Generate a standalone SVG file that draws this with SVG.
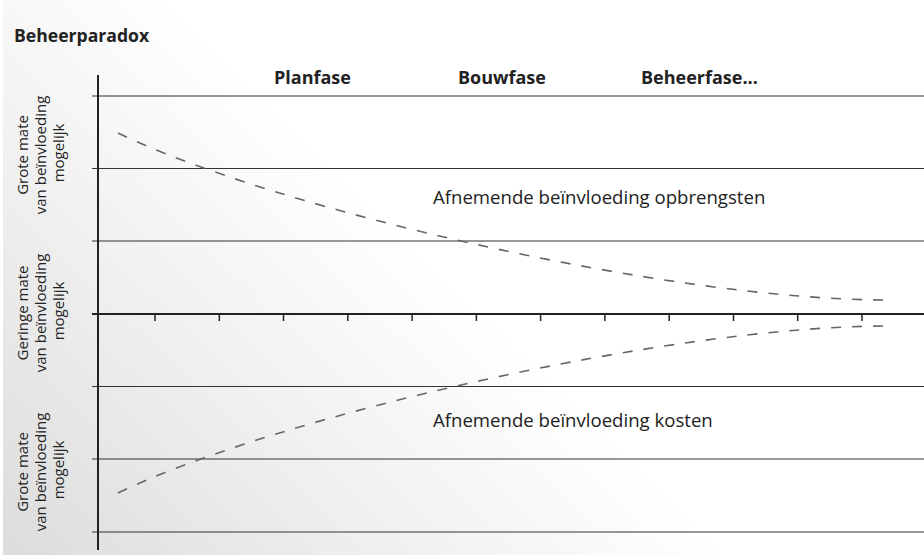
<svg xmlns="http://www.w3.org/2000/svg" width="924" height="555" viewBox="0 0 924 555">
  <style>
    .title { font-family: "Open Sans", "Liberation Sans", sans-serif; font-weight: 700; font-size: 17.6px; fill: #222; }
    .phase { font-family: "Open Sans", "Liberation Sans", sans-serif; font-weight: 700; font-size: 18px; fill: #222; }
    .body { font-family: "Open Sans", "Liberation Sans", sans-serif; font-size: 18.6px; fill: #222; }
    .ylab { font-family: "Open Sans", "Liberation Sans", sans-serif; font-size: 15px; fill: #222; text-anchor: middle; }
    .grid { stroke: #333; stroke-width: 1.2; fill: none; }
    .axis { stroke: #222; stroke-width: 2; fill: none; }
    .tick { stroke: #222; stroke-width: 1.5; }
    .curve { stroke: #666; stroke-width: 1.6; fill: none; stroke-dasharray: 10 11; }
  </style>
  <defs>
    <linearGradient id="bg" gradientUnits="userSpaceOnUse" x1="0" y1="555" x2="360" y2="190">
      <stop offset="0" stop-color="#dcdcdc"/>
      <stop offset="0.55" stop-color="#f0f0f0"/>
      <stop offset="1" stop-color="#ffffff"/>
    </linearGradient>
  </defs>

  <rect x="0" y="0" width="924" height="555" fill="#ffffff"/>
  <rect x="3" y="0" width="921" height="555" fill="url(#bg)"/>

  <!-- title -->
  <text class="title" x="14" y="42">Beheerparadox</text>

  <!-- phase headings -->
  <g id="phases">
    <text class="phase" x="274" y="84">Planfase</text>
    <text class="phase" x="458" y="84">Bouwfase</text>
    <text class="phase" x="641" y="84">Beheerfase...</text>
  </g>

  <!-- horizontal grid lines -->
  <g id="grid">
    <line class="grid" x1="92" y1="96" x2="924" y2="96"/>
    <line class="grid" x1="92" y1="168.5" x2="924" y2="168.5"/>
    <line class="grid" x1="92" y1="241" x2="924" y2="241"/>
    <line class="grid" x1="92" y1="386.5" x2="924" y2="386.5"/>
    <line class="grid" x1="92" y1="459" x2="924" y2="459"/>
    <line class="grid" x1="92" y1="532" x2="924" y2="532"/>
  </g>

  <!-- axes and time ticks -->
  <g id="axes">
    <line class="axis" x1="98" y1="75" x2="98" y2="550"/>
    <line class="axis" x1="92" y1="314" x2="924" y2="314"/>
    <g class="tick">
      <line x1="155" y1="314" x2="155" y2="321"/>
      <line x1="219.3" y1="314" x2="219.3" y2="321"/>
      <line x1="283.5" y1="314" x2="283.5" y2="321"/>
      <line x1="347.8" y1="314" x2="347.8" y2="321"/>
      <line x1="412.1" y1="314" x2="412.1" y2="321"/>
      <line x1="476.4" y1="314" x2="476.4" y2="321"/>
      <line x1="540.6" y1="314" x2="540.6" y2="321"/>
      <line x1="604.9" y1="314" x2="604.9" y2="321"/>
      <line x1="669.2" y1="314" x2="669.2" y2="321"/>
      <line x1="733.5" y1="314" x2="733.5" y2="321"/>
      <line x1="797.7" y1="314" x2="797.7" y2="321"/>
      <line x1="862" y1="314" x2="862" y2="321"/>
    </g>
  </g>

  <!-- vertical axis labels -->
  <g id="label-top">
    <text class="ylab" transform="translate(0,153) rotate(-90)">
      <tspan x="0" y="27.5">Grote mate</tspan>
      <tspan x="0" y="46">van beïnvloeding</tspan>
      <tspan x="0" y="64">mogelijk</tspan>
    </text>
  </g>
  <g id="label-middle">
    <text class="ylab" transform="translate(0,311) rotate(-90)">
      <tspan x="0" y="27.5">Geringe mate</tspan>
      <tspan x="0" y="46">van beïnvloeding</tspan>
      <tspan x="0" y="64">mogelijk</tspan>
    </text>
  </g>
  <g id="label-bottom">
    <text class="ylab" transform="translate(0,470) rotate(-90)">
      <tspan x="0" y="27.5">Grote mate</tspan>
      <tspan x="0" y="46">van beïnvloeding</tspan>
      <tspan x="0" y="64">mogelijk</tspan>
    </text>
  </g>

  <!-- dashed influence curves -->
  <g id="connectors">
    <path id="curve-revenue" class="curve" d="M118,133 C278,210 668,300 888,300"/>
    <path id="curve-costs" class="curve" d="M118,493 C278,416 668,326 888,326"/>
  </g>

  <g id="note-revenue">
    <text class="body" x="433" y="204">Afnemende beïnvloeding opbrengsten</text>
  </g>
  <g id="note-costs">
    <text class="body" x="433" y="427">Afnemende beïnvloeding kosten</text>
  </g>
</svg>
